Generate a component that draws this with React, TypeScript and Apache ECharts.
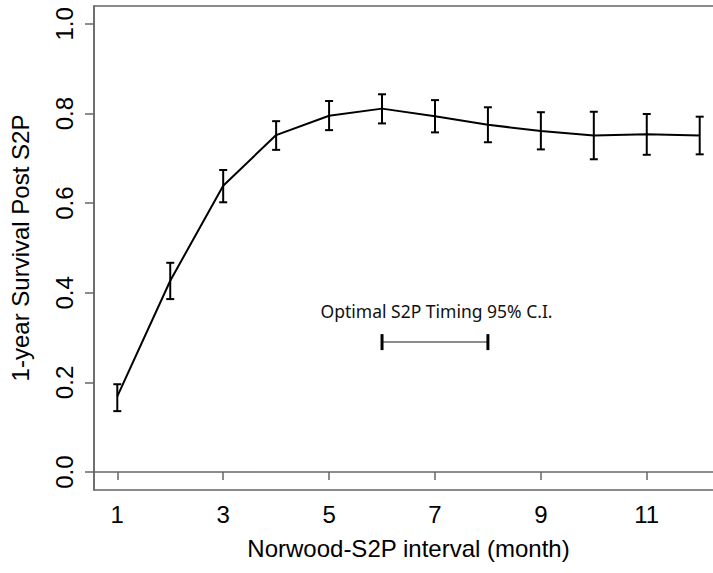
import React, { useEffect, useRef } from "react";
import * as echarts from "echarts";

const months = [1, 2, 3, 4, 5, 6, 7, 8, 9, 10, 11, 12];
const survival = [0.169, 0.427, 0.639, 0.752, 0.795, 0.811, 0.794, 0.775, 0.761, 0.751, 0.754, 0.751];
const lower = [0.136, 0.386, 0.602, 0.719, 0.763, 0.778, 0.758, 0.736, 0.72, 0.698, 0.708, 0.709];
const upper = [0.196, 0.467, 0.674, 0.783, 0.828, 0.843, 0.83, 0.814, 0.803, 0.804, 0.799, 0.793];
const xTicks = [1, 3, 5, 7, 9, 11];
const yTicks = [0, 0.2, 0.4, 0.6, 0.8, 1.0];
const ciRange = [6, 8];
const ciLevel = 0.29;
const ciText = "Optimal S2P Timing 95% C.I.";
const ciTextPos = [7.03, 0.36];

export default function App() {
  const ref = useRef<HTMLDivElement>(null);
  useEffect(() => {
    if (!ref.current) return;
    const chart = echarts.init(ref.current, null, { renderer: "svg" });
    const axisFont = "'Liberation Sans', Arial, sans-serif";
    chart.setOption({
      animation: false,
      backgroundColor: "#ffffff",
      grid: {
        left: 92,
        top: 6,
        width: 631,
        height: 484,
        show: true,
        borderColor: "#666666",
        borderWidth: 1.5,
        containLabel: false,
      },
      xAxis: {
        type: "value",
        min: 0.56,
        max: 12.44,
        name: "Norwood-S2P interval (month)",
        nameLocation: "middle",
        nameGap: 46,
        nameTextStyle: { fontFamily: axisFont, fontSize: 24, color: "#000" },
        axisLine: { show: true, lineStyle: { color: "#666666", width: 1.5 } },
        axisTick: {
          show: true,
          length: 8,
          lineStyle: { color: "#666666", width: 1.5 },
          customValues: xTicks,
        },
        axisLabel: {
          fontFamily: axisFont,
          fontSize: 24,
          color: "#000",
          margin: 12,
          customValues: xTicks,
          formatter: (v: number) => String(Math.round(v)),
        },
        splitLine: { show: false },
      },
      yAxis: {
        type: "value",
        min: -0.04,
        max: 1.04,
        name: "1-year Survival Post S2P",
        nameLocation: "middle",
        nameGap: 62,
        nameRotate: 90,
        nameTextStyle: { fontFamily: axisFont, fontSize: 24, color: "#000" },
        axisLine: { show: true, lineStyle: { color: "#666666", width: 1.5 } },
        axisTick: {
          show: true,
          length: 9,
          lineStyle: { color: "#666666", width: 1.5 },
          customValues: yTicks,
        },
        axisLabel: {
          fontFamily: axisFont,
          fontSize: 24,
          color: "#000",
          rotate: 90,
          margin: 18,
          customValues: yTicks,
          formatter: (v: number) => v.toFixed(1),
        },
        splitLine: { show: false },
      },
      series: [
        {
          type: "line",
          data: months.map((m, i) => [m, survival[i]]),
          symbol: "none",
          lineStyle: { color: "#000", width: 2 },
          z: 3,
        },
        {
          type: "custom",
          data: months.map((m, i) => [m, lower[i], upper[i]]),
          renderItem: (params: any, api: any) => {
            const x = api.value(0);
            const pLo = api.coord([x, api.value(1)]);
            const pHi = api.coord([x, api.value(2)]);
            const w = 4;
            const st = { stroke: "#000", lineWidth: 2 };
            return {
              type: "group",
              children: [
                { type: "line", shape: { x1: pLo[0], y1: pLo[1], x2: pHi[0], y2: pHi[1] }, style: st },
                { type: "line", shape: { x1: pLo[0] - w, y1: pLo[1], x2: pLo[0] + w, y2: pLo[1] }, style: st },
                { type: "line", shape: { x1: pHi[0] - w, y1: pHi[1], x2: pHi[0] + w, y2: pHi[1] }, style: st },
              ],
            };
          },
          z: 4,
        },
        {
          type: "custom",
          data: [[ciRange[0], ciRange[1], ciLevel, ciTextPos[0], ciTextPos[1]]],
          renderItem: (params: any, api: any) => {
            const a = api.coord([api.value(0), api.value(2)]);
            const b = api.coord([api.value(1), api.value(2)]);
            const t = api.coord([api.value(3), api.value(4)]);
            const h = 8;
            return {
              type: "group",
              children: [
                { type: "line", shape: { x1: a[0], y1: a[1], x2: b[0], y2: b[1] }, style: { stroke: "#666666", lineWidth: 1.5 } },
                { type: "line", shape: { x1: a[0], y1: a[1] - h, x2: a[0], y2: a[1] + h }, style: { stroke: "#000", lineWidth: 3 } },
                { type: "line", shape: { x1: b[0], y1: b[1] - h, x2: b[0], y2: b[1] + h }, style: { stroke: "#000", lineWidth: 3 } },
                {
                  type: "text",
                  x: t[0],
                  y: t[1],
                  style: {
                    text: ciText,
                    fill: "#111",
                    font: "17.5px 'Noto Sans', 'Open Sans', sans-serif",
                    align: "center",
                    verticalAlign: "middle",
                  },
                },
              ],
            };
          },
          z: 5,
        },
      ],
    });
    return () => chart.dispose();
  }, []);
  return (
    <div
      style={{ position: "absolute", left: 0, top: 0, width: 713, height: 573, overflow: "hidden", background: "#fff" }}
    >
      <div ref={ref} style={{ width: 740, height: 573 }} />
    </div>
  );
}
